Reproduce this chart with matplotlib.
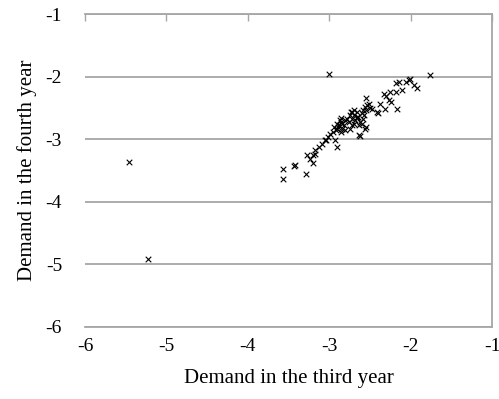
import matplotlib.pyplot as plt

plt.rcParams['font.family'] = ['Liberation Serif', 'DejaVu Serif']
plt.rcParams['axes.unicode_minus'] = False

# demand values (third year vs fourth year)
tercer_anio = [
    -5.46, -5.22, -3.00, -1.76,
    -2.18, -2.14, -2.06, -2.02, -1.96, -1.92, -2.01,
    -2.33, -2.30, -2.25, -2.18, -2.10, -2.27, -2.24, -2.37, -2.31, -2.17,
    -2.41, -2.53, -2.50, -2.55, -2.55, -2.57, -2.60, -2.65, -2.70, -2.73,
    -2.75, -2.78, -2.87, -2.85, -2.84, -2.89, -2.90, -2.84, -2.74, -2.69,
    -2.63, -2.55, -2.63, -2.51, -2.56, -2.48, -2.40, -2.59, -2.66, -2.72,
    -2.66, -2.91, -2.72, -2.56, -2.62,
    -2.80, -2.82, -2.86, -2.76, -2.72, -2.68, -2.66, -2.62, -2.58, -2.60,
    -2.88, -2.92, -2.95, -2.86, -2.80, -2.94, -2.70,
    -2.93, -3.05, -3.01, -2.99, -3.09, -3.17, -3.20, -3.24, -3.20,
    -3.04, -2.91, -3.13, -3.27, -3.18, -3.42, -3.57, -3.57, -3.43, -3.29,
]
cuarto_anio = [
    -3.36, -4.91, -1.96, -1.97,
    -2.11, -2.09, -2.08, -2.05, -2.13, -2.18, -2.04,
    -2.28, -2.31, -2.25, -2.24, -2.22, -2.37, -2.41, -2.43, -2.51, -2.51,
    -2.57, -2.46, -2.50, -2.34, -2.54, -2.61, -2.58, -2.64, -2.53, -2.56,
    -2.62, -2.67, -2.69, -2.66, -2.75, -2.80, -2.84, -2.83, -2.83, -2.75,
    -2.78, -2.81, -2.93, -2.44, -2.48, -2.52, -2.58, -2.53, -2.56, -2.56,
    -2.65, -2.75, -2.77, -2.83, -2.95,
    -2.70, -2.78, -2.72, -2.72, -2.68, -2.70, -2.66, -2.72, -2.68, -2.76,
    -2.78, -2.86, -2.88, -2.88, -2.86, -2.80, -2.62,
    -3.01, -3.01, -2.96, -2.91, -3.07, -3.17, -3.25, -3.31, -3.38,
    -3.02, -3.12, -3.12, -3.25, -3.24, -3.41, -3.48, -3.64, -3.43, -3.56,
]

gris = '#a6a6a6'

fig = plt.figure(figsize=(4.99, 3.99), dpi=100)
ax = fig.add_axes([0.1703, 0.1805, 0.8157, 0.7844])

ax.scatter(tercer_anio, cuarto_anio, marker='x', s=16, c='black', linewidths=0.8, zorder=3)

ax.set_xlim(-6, -1)
ax.set_ylim(-6, -1)
ax.set_xticks([-6, -5, -4, -3, -2, -1])
ax.set_yticks([-6, -5, -4, -3, -2, -1])

ax.yaxis.grid(True, color=gris, linewidth=1.3)
ax.set_axisbelow(True)

ax.spines['left'].set_visible(False)
for lado in ['top', 'right', 'bottom']:
    ax.spines[lado].set_color(gris)
    ax.spines[lado].set_linewidth(1.3)

ax.tick_params(axis='x', top=True, bottom=False, labeltop=False, labelbottom=True,
               direction='in', length=5, width=1.0, color=gris, pad=8, labelsize=14)
ax.tick_params(axis='y', left=False, right=False, pad=13, labelsize=14)

ax.set_xlabel('Demand in the third year', fontsize=15, labelpad=10)
ax.set_ylabel('Demand in the fourth year', fontsize=15, labelpad=6)

fig.savefig('out.png', dpi=100)
